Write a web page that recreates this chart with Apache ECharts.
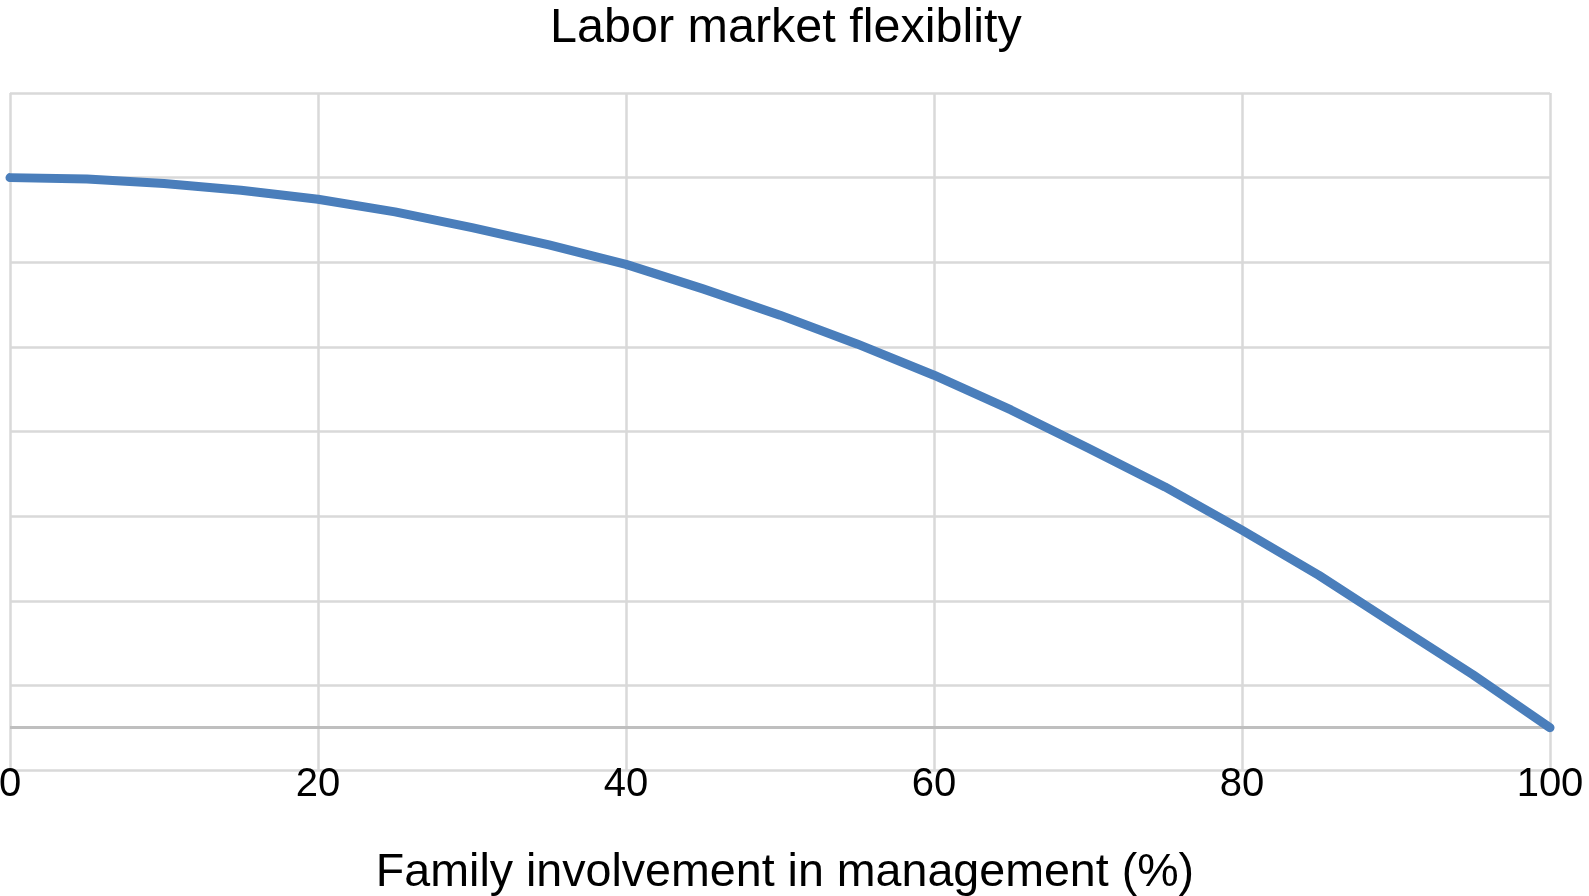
<!DOCTYPE html>
<html>
<head>
<meta charset="utf-8">
<script src="https://cdn.jsdelivr.net/npm/echarts@6/dist/echarts.min.js"></script>
<style>
html,body{margin:0;padding:0;background:#fff;}
#chart{width:1589px;height:896px;}
</style>
</head>
<body>
<div id="chart"></div>
<script>
const titleText = "Labor market flexiblity";
const xAxisName = "Family involvement in management (%)";
const involvement = [0, 5, 10, 15, 20, 25, 30, 35, 40, 45, 50, 55, 60, 65, 70, 75, 80, 85, 90, 95, 100];
const flexibility = [13, 12.97, 12.86, 12.7, 12.49, 12.19, 11.82, 11.41, 10.95, 10.37, 9.75, 9.07, 8.33, 7.51, 6.61, 5.69, 4.67, 3.6, 2.42, 1.25, 0];
const xTicks = [0, 20, 40, 60, 80, 100];

const font = "'Liberation Sans', Arial, Helvetica, sans-serif";
const chart = echarts.init(document.getElementById('chart'));
chart.setOption({
  animation: false,
  backgroundColor: '#fff',
  title: {
    text: titleText,
    left: 545,
    top: -1,
    textStyle: {fontFamily: font, fontSize: 48.5, fontWeight: 'normal', color: '#000'}
  },
  grid: {left: 10, right: 39, top: 93, bottom: 126, containLabel: false, outerBoundsMode: 'none'},
  xAxis: {
    type: 'value',
    min: xTicks[0],
    max: xTicks[xTicks.length - 1],
    interval: xTicks[1] - xTicks[0],
    name: xAxisName,
    nameLocation: 'middle',
    nameGap: 80,
    nameTextStyle: {fontFamily: font, fontSize: 46.6, color: '#000', padding: [0, 0, 0, 10]},
    axisLine: {show: false, onZero: false},
    axisTick: {show: false},
    axisLabel: {fontFamily: font, fontSize: 40, color: '#000', margin: -5},
    splitLine: {show: true, lineStyle: {color: '#d9d9d9', width: 2.5}}
  },
  yAxis: {
    type: 'value',
    min: -1,
    max: 15,
    interval: 2,
    axisLine: {show: false},
    axisTick: {show: false},
    axisLabel: {show: false},
    splitLine: {show: true, lineStyle: {color: '#d9d9d9', width: 2.5}}
  },
  series: [{
    type: 'line',
    data: involvement.map((x, i) => [x, flexibility[i]]),
    smooth: false,
    showSymbol: false,
    lineStyle: {color: '#4a7ebb', width: 9, cap: 'round', join: 'round'},
    z: 3,
    markLine: {
      silent: true,
      symbol: ['none', 'none'],
      label: {show: false},
      lineStyle: {color: '#bfbfbf', width: 3, type: 'solid'},
      data: [{yAxis: 0}],
      z: 2
    }
  }]
});
</script>
</body>
</html>
